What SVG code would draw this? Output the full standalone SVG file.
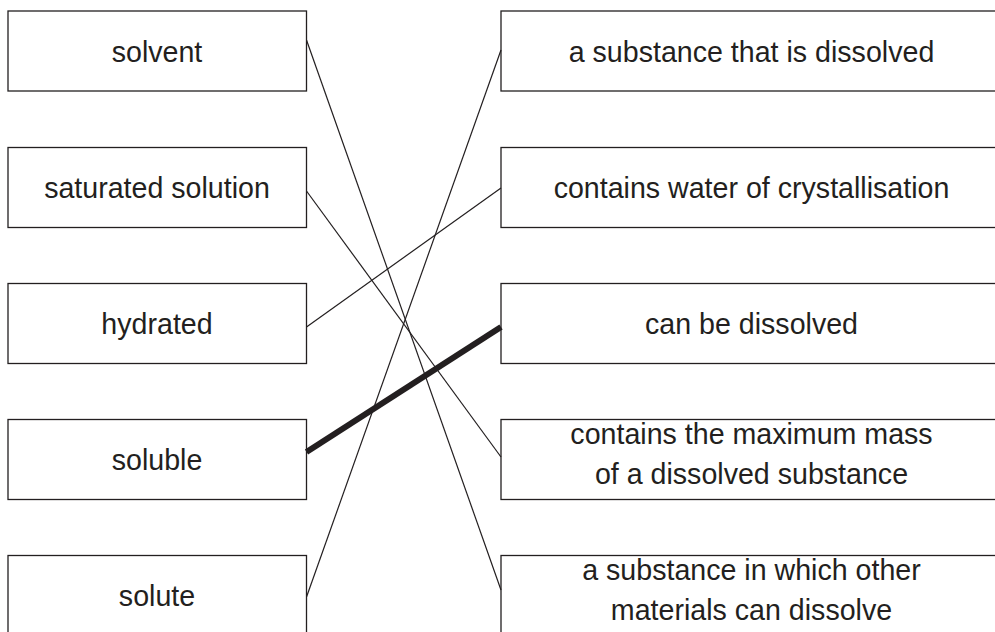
<svg xmlns="http://www.w3.org/2000/svg" width="995" height="632" viewBox="0 0 995 632">
<style>
.box{fill:#fff;stroke:#231f20;stroke-width:1.3}
.t{font-family:"Liberation Sans",Arial,sans-serif;font-size:28.6px;fill:#231f20;text-anchor:middle}
.c{stroke:#231f20;stroke-width:1.2;fill:none}
.thick{stroke:#231f20;stroke-width:6;fill:none}
</style>
<rect width="995" height="632" fill="#fff"/>
<g id="l-solvent"><rect class="box" x="8" y="11" width="298.5" height="80"/><text class="t" x="157" y="62">solvent</text></g>
<g id="l-saturated"><rect class="box" x="8" y="147.5" width="298.5" height="80"/><text class="t" x="157" y="198">saturated solution</text></g>
<g id="l-hydrated"><rect class="box" x="8" y="283.5" width="298.5" height="80"/><text class="t" x="157" y="334">hydrated</text></g>
<g id="l-soluble"><rect class="box" x="8" y="419.5" width="298.5" height="80"/><text class="t" x="157" y="470">soluble</text></g>
<g id="l-solute"><rect class="box" x="8" y="555.5" width="298.5" height="80"/><text class="t" x="157" y="606">solute</text></g>
<g id="r-dissolved"><rect class="box" x="501" y="11" width="501" height="80"/><text class="t" x="751.5" y="62">a substance that is dissolved</text></g>
<g id="r-water"><rect class="box" x="501" y="147.5" width="501" height="80"/><text class="t" x="751.5" y="198">contains water of crystallisation</text></g>
<g id="r-canbe"><rect class="box" x="501" y="283.5" width="501" height="80"/><text class="t" x="751.5" y="334">can be dissolved</text></g>
<g id="r-maximum"><rect class="box" x="501" y="419.5" width="501" height="80"/><text class="t" x="751.5" y="444">contains the maximum mass</text><text class="t" x="751.5" y="484">of a dissolved substance</text></g>
<g id="r-solvent"><rect class="box" x="501" y="555.5" width="501" height="80"/><text class="t" x="751.5" y="580">a substance in which other</text><text class="t" x="751.5" y="620">materials can dissolve</text></g>
<g id="connectors">
<line class="c" x1="306.5" y1="40" x2="501" y2="590"/>
<line class="c" x1="306.5" y1="191" x2="501" y2="457"/>
<line class="c" x1="306.5" y1="327" x2="501" y2="188"/>
<line class="thick" x1="306.5" y1="452" x2="501" y2="327"/>
<line class="c" x1="306.5" y1="597" x2="501" y2="50"/>
</g>
</svg>
